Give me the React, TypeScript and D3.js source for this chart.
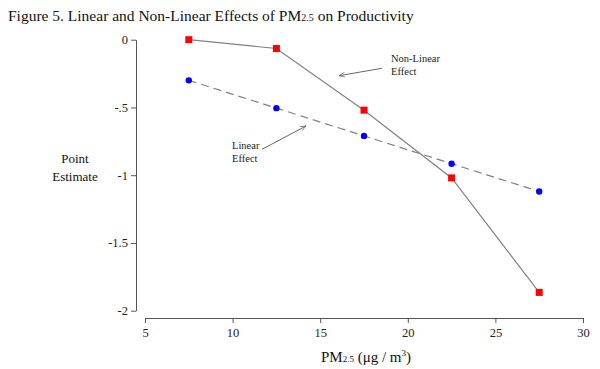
import React, { useEffect, useRef } from 'react'
import * as d3 from 'd3'

// PM2.5 bins (midpoints) and point estimates
const pm25 = [7.5, 12.5, 17.5, 22.5, 27.5]
const nonLinear = [0, -0.065, -0.52, -1.02, -1.865]
const linear = [-0.3, -0.505, -0.71, -0.915, -1.12]
const xTicks = [5, 10, 15, 20, 25, 30]
const yTicks = [0, -0.5, -1, -1.5, -2]

const W = 600
const H = 369
const FONT = '"Liberation Serif", "DejaVu Serif", serif'

export default function App() {
  const svgRef = useRef<SVGSVGElement>(null)

  useEffect(() => {
    if (!svgRef.current) return
    const svg = d3.select(svgRef.current)
    svg.selectAll('*').remove()

    const x = d3.scaleLinear().domain([5, 30]).range([145, 583])
    const y = d3.scaleLinear().domain([0, -2]).range([39.7, 310.7])

    // arrow marker
    svg.append('defs').append('marker')
      .attr('id', 'arr')
      .attr('viewBox', '0 0 10 10')
      .attr('refX', 10)
      .attr('refY', 5)
      .attr('markerWidth', 6)
      .attr('markerHeight', 6)
      .attr('orient', 'auto')
      .append('path')
      .attr('d', 'M0,1 L10,5 L0,9')
      .attr('fill', 'none')
      .attr('stroke', '#666')
      .attr('stroke-width', 1.2)

    // title
    const title = svg.append('text')
      .attr('x', 8)
      .attr('y', 20.5)
      .style('font-family', FONT)
      .style('font-size', '15.5px')
      .attr('fill', '#111')
    title.append('tspan').text('Figure 5. Linear and Non-Linear Effects of PM')
    title.append('tspan').attr('font-size', '10px').text('2.5')
    title.append('tspan').text(' on Productivity')

    // axes
    const fmt = (d: d3.NumberValue) => {
      const v = +d
      return v === 0 ? '0' : String(v).replace('0.', '.')
    }

    const gy = svg.append('g')
      .attr('transform', 'translate(136,0)')
      .call(d3.axisLeft(y).tickValues(yTicks).tickFormat(fmt).tickSize(5).tickSizeOuter(0).tickPadding(3))
    gy.selectAll('text').style('font-family', FONT).style('font-size', '12.5px').attr('fill', '#222')

    const gx = svg.append('g')
      .attr('transform', 'translate(0,318)')
      .call(d3.axisBottom(x).tickValues(xTicks).tickFormat(d3.format('d')).tickSize(5).tickSizeOuter(0).tickPadding(5))
    gx.selectAll('text').style('font-family', FONT).style('font-size', '12.5px').attr('fill', '#222')

    svg.selectAll('.domain, .tick line').attr('stroke', '#555').attr('stroke-width', 1)

    // axis labels
    const xl = svg.append('text')
      .attr('x', 366)
      .attr('y', 362)
      .attr('text-anchor', 'middle')
      .style('font-family', FONT)
      .style('font-size', '15px')
      .attr('fill', '#111')
    xl.append('tspan').text('PM')
    xl.append('tspan').attr('font-size', '9px').text('2.5')
    xl.append('tspan').text(' (μg / m')
    xl.append('tspan').attr('font-size', '9px').attr('dy', -6).text('3')
    xl.append('tspan').attr('dy', 6).text(')')

    svg.append('text')
      .attr('x', 75)
      .attr('y', 162.7)
      .attr('text-anchor', 'middle')
      .style('font-family', FONT)
      .style('font-size', '13px')
      .attr('fill', '#111')
      .text('Point')
    svg.append('text')
      .attr('x', 75)
      .attr('y', 180.7)
      .attr('text-anchor', 'middle')
      .style('font-family', FONT)
      .style('font-size', '13px')
      .attr('fill', '#111')
      .text('Estimate')

    const line = d3.line<number>()
      .x((_, i) => x(pm25[i]))
      .y(d => y(d))

    // lines
    svg.append('path')
      .datum(linear)
      .attr('fill', 'none')
      .attr('stroke', '#808080')
      .attr('stroke-width', 1.2)
      .attr('stroke-dasharray', '8,5')
      .attr('d', line)

    svg.append('path')
      .datum(nonLinear)
      .attr('fill', 'none')
      .attr('stroke', '#808080')
      .attr('stroke-width', 1.2)
      .attr('d', line)

    // points
    svg.selectAll('.lin-pt')
      .data(linear)
      .enter()
      .append('circle')
      .attr('class', 'lin-pt')
      .attr('cx', (_, i) => x(pm25[i]))
      .attr('cy', d => y(d))
      .attr('r', 3.2)
      .attr('fill', '#0000ff')

    svg.selectAll('.nl-pt')
      .data(nonLinear)
      .enter()
      .append('rect')
      .attr('class', 'nl-pt')
      .attr('x', (_, i) => x(pm25[i]) - 3.5)
      .attr('y', d => y(d) - 3.5)
      .attr('width', 7)
      .attr('height', 7)
      .attr('fill', '#ff0000')

    // annotations
    const note = (lines: string[], tx: number, ty: number, anchor: string) => {
      lines.forEach((s, i) => {
        svg.append('text')
          .attr('x', tx)
          .attr('y', ty + i * 13)
          .attr('text-anchor', anchor)
          .style('font-family', FONT)
          .style('font-size', '10.5px')
          .attr('fill', '#222')
          .text(s)
      })
    }
    note(['Non-Linear', 'Effect'], 391, 62, 'start')
    note(['Linear', 'Effect'], 232, 149, 'start')

    svg.append('line')
      .attr('x1', 382).attr('y1', 68.3)
      .attr('x2', 339).attr('y2', 75.7)
      .attr('stroke', '#666').attr('stroke-width', 1)
      .attr('marker-end', 'url(#arr)')
    svg.append('line')
      .attr('x1', 262).attr('y1', 149.3)
      .attr('x2', 306).attr('y2', 126)
      .attr('stroke', '#666').attr('stroke-width', 1)
      .attr('marker-end', 'url(#arr)')
  }, [])

  return (
    <svg
      ref={svgRef}
      width={W}
      height={H}
      style={{ position: 'absolute', left: 0, top: 0, background: '#fff' }}
    />
  )
}
